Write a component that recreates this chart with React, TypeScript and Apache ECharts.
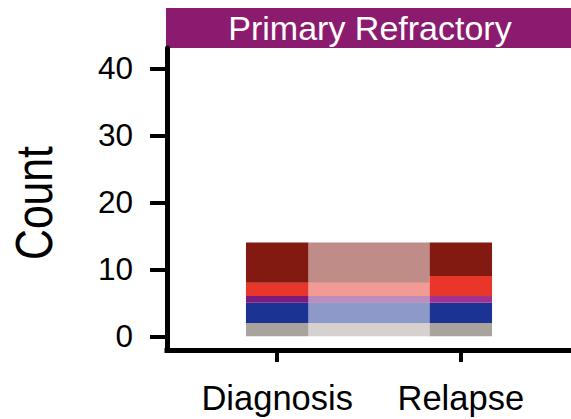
import React, { useEffect, useRef } from "react";
import * as echarts from "echarts";

// ---- data ----
const axes = ["Diagnosis", "Relapse"];
const axisPositions = [1, 2];
const strata = ["Other", "Blue", "Purple", "Red", "Dark red"]; // bottom to top
const diagnosisCounts = [2, 3, 1, 2, 6];
const relapseCounts = [2, 3, 1, 3, 5];
const diagnosisColors = ["#A9A39E", "#1B3493", "#7B1B7D", "#E8362A", "#821A12"];
const relapseColors = ["#A9A39E", "#1B3493", "#A23191", "#E8362A", "#821A12"];
const flowFrom = [0, 1, 2, 3, 4, 4];
const flowTo = [0, 1, 2, 3, 3, 4];
const flowCounts = [2, 3, 1, 2, 1, 5];
const yTicks = [0, 10, 20, 30, 40];
const panelTitle = "Primary Refractory";
const yTitle = "Count";

const FONT = "'Liberation Sans', Arial, Helvetica, sans-serif";
const HALF_W = 0.17;

function cumulative(counts: number[]) {
  const starts: number[] = [];
  let s = 0;
  for (const c of counts) {
    starts.push(s);
    s += c;
  }
  return starts;
}

export default function App() {
  const ref = useRef<HTMLDivElement>(null);

  useEffect(() => {
    if (!ref.current) return;
    const chart = echarts.init(ref.current, undefined, { renderer: "svg" });

    const allCounts = [diagnosisCounts, relapseCounts];
    const allColors = [diagnosisColors, relapseColors];

    // strata rectangles
    const barData: number[][] = [];
    allCounts.forEach((counts, a) => {
      const starts = cumulative(counts);
      counts.forEach((c, s) => {
        if (c > 0) barData.push([axisPositions[a], starts[s], starts[s] + c, a, s]);
      });
    });

    // flows
    const dStarts = cumulative(diagnosisCounts);
    const rStarts = cumulative(relapseCounts);
    const order = flowCounts.map((_, i) => i);
    const dPos: number[] = [];
    const rPos: number[] = [];
    strata.forEach((_, s) => {
      let y = dStarts[s];
      order
        .filter((i) => flowFrom[i] === s)
        .sort((a, b) => flowTo[a] - flowTo[b])
        .forEach((i) => {
          dPos[i] = y;
          y += flowCounts[i];
        });
      let y2 = rStarts[s];
      order
        .filter((i) => flowTo[i] === s)
        .sort((a, b) => flowFrom[a] - flowFrom[b])
        .forEach((i) => {
          rPos[i] = y2;
          y2 += flowCounts[i];
        });
    });
    const flowData = order.map((i) => [
      axisPositions[0] + HALF_W,
      dPos[i],
      dPos[i] + flowCounts[i],
      rPos[i],
      rPos[i] + flowCounts[i],
      flowFrom[i],
    ]);
    const x2 = axisPositions[1] - HALF_W;

    chart.setOption({
      animation: false,
      grid: { left: 167, top: 48, width: 405.5, height: 302, containLabel: false },
      xAxis: {
        type: "value",
        min: 0.4,
        max: 2.6,
        splitLine: { show: false },
        axisLine: { show: true, onZero: false, lineStyle: { color: "#000", width: 5, cap: "square" } },
        axisTick: {
          show: true,
          customValues: axisPositions,
          length: 12,
          lineStyle: { color: "#000", width: 4 },
        },
        axisLabel: {
          show: true,
          customValues: axisPositions,
          margin: 30,
          fontSize: 34.5,
          fontFamily: FONT,
          color: "#000",
          formatter: (v: number) => axes[axisPositions.indexOf(Math.round(v))] ?? "",
        },
      },
      yAxis: {
        type: "value",
        min: -2.05,
        max: 43.05,
        splitLine: { show: false },
        axisLine: { show: true, onZero: false, lineStyle: { color: "#000", width: 5 } },
        axisTick: {
          show: true,
          customValues: yTicks,
          length: 17,
          lineStyle: { color: "#000", width: 4 },
        },
        axisLabel: {
          show: true,
          customValues: yTicks,
          margin: 34,
          fontSize: 31.5,
          fontFamily: FONT,
          color: "#000",
        },
      },
      graphic: [
        {
          type: "rect",
          left: 166,
          top: 8,
          shape: { width: 406, height: 40 },
          style: { fill: "#8B1B6E" },
          silent: true,
        },
        {
          type: "text",
          x: 370,
          y: 28,
          style: {
            text: panelTitle,
            fill: "#fff",
            fontSize: 34,
            fontFamily: FONT,
            align: "center",
            verticalAlign: "middle",
          },
        },
        {
          type: "text",
          x: 34,
          y: 203,
          rotation: Math.PI / 2,
          scaleX: 0.82,
          style: {
            text: yTitle,
            fill: "#000",
            fontSize: 52,
            fontFamily: FONT,
            align: "center",
            verticalAlign: "middle",
          },
        },
      ],
      series: [
        {
          type: "custom",
          name: "flows",
          data: flowData,
          renderItem: (params: any, api: any) => {
            const xa = api.value(0);
            const a0 = api.coord([xa, api.value(1)]);
            const a1 = api.coord([xa, api.value(2)]);
            const b0 = api.coord([x2, api.value(3)]);
            const b1 = api.coord([x2, api.value(4)]);
            const c = diagnosisColors[api.value(5)];
            return {
              type: "polygon",
              shape: { points: [a0, b0, b1, a1] },
              style: { fill: c, opacity: 0.5 },
            };
          },
        },
        {
          type: "custom",
          name: "strata",
          data: barData,
          renderItem: (params: any, api: any) => {
            const x = api.value(0);
            const p0 = api.coord([x - HALF_W, api.value(2)]);
            const p1 = api.coord([x + HALF_W, api.value(1)]);
            const c = allColors[api.value(3)][api.value(4)];
            return {
              type: "rect",
              shape: { x: p0[0], y: p0[1], width: p1[0] - p0[0], height: p1[1] - p0[1] },
              style: { fill: c },
            };
          },
        },
      ],
    });

    return () => chart.dispose();
  }, []);

  return (
    <div
      ref={ref}
      style={{ position: "absolute", left: 0, top: 0, width: 571, height: 419, background: "#fff" }}
    />
  );
}
